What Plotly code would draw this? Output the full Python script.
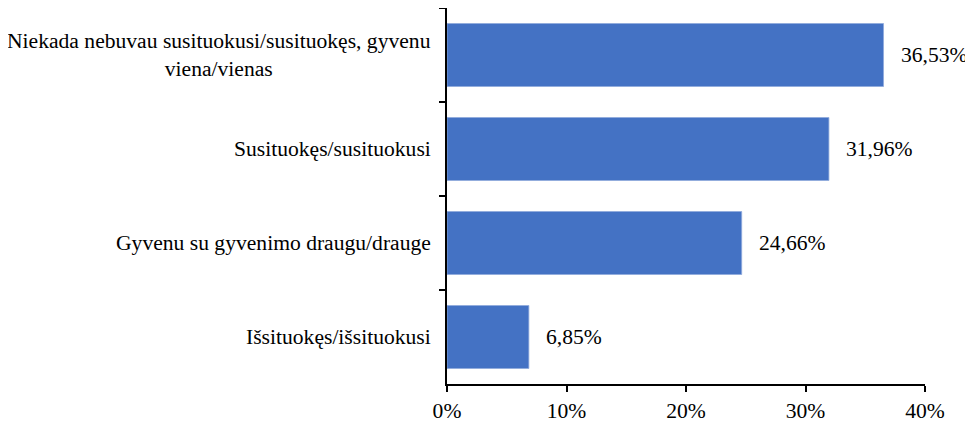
import plotly.graph_objects as go

categories = [
    "Niekada nebuvau susituokusi/susituokęs, gyvenu<br>viena/vienas",
    "Susituokęs/susituokusi",
    "Gyvenu su gyvenimo draugu/drauge",
    "Išsituokęs/išsituokusi",
]
values = [36.53, 31.96, 24.66, 6.85]
value_labels = ["36,53%", "31,96%", "24,66%", "6,85%"]
x_ticks = [0, 10, 20, 30, 40]
x_tick_labels = ["0%", "10%", "20%", "30%", "40%"]

FONT = "Liberation Serif"
FS = 21.6

fig = go.Figure(go.Bar(
    x=values,
    y=categories,
    orientation="h",
    marker=dict(color="#4472C4", line=dict(color="#8FA9DC", width=0.8)),
    hoverinfo="skip",
))

annotations = []
for c, v, t in zip(categories, values, value_labels):
    annotations.append(dict(
        x=v, y=c, xref="x", yref="y", text=t, showarrow=False,
        xanchor="left", yanchor="middle", xshift=15,
        font=dict(family=FONT, size=FS, color="black"),
    ))
    annotations.append(dict(
        x=0, y=c, xref="paper", yref="y", text=c, showarrow=False,
        xanchor="right", yanchor="middle", xshift=-14, align="center",
        font=dict(family=FONT, size=FS, color="black"),
    ))

fig.update_layout(
    width=965, height=416,
    margin=dict(l=439, r=48, t=0, b=40),
    paper_bgcolor="white", plot_bgcolor="white",
    showlegend=False,
    bargap=0.33,
    font=dict(family=FONT, size=FS, color="black"),
    annotations=annotations,
    xaxis=dict(
        range=[0, 40], tickvals=x_ticks, ticktext=x_tick_labels,
        showgrid=False, zeroline=False,
        showline=True, linecolor="black", linewidth=2,
        ticks="outside", ticklen=6, tickwidth=2, tickcolor="black",
        tickfont=dict(family=FONT, size=FS, color="black"),
    ),
    yaxis=dict(
        type="category", categoryorder="array", categoryarray=categories,
        autorange="reversed",
        showgrid=False, zeroline=False,
        showline=True, linecolor="black", linewidth=2,
        ticks="outside", tickson="boundaries", ticklen=6, tickwidth=2,
        tickcolor="black", showticklabels=False,
    ),
)

fig.write_html("out.html")
